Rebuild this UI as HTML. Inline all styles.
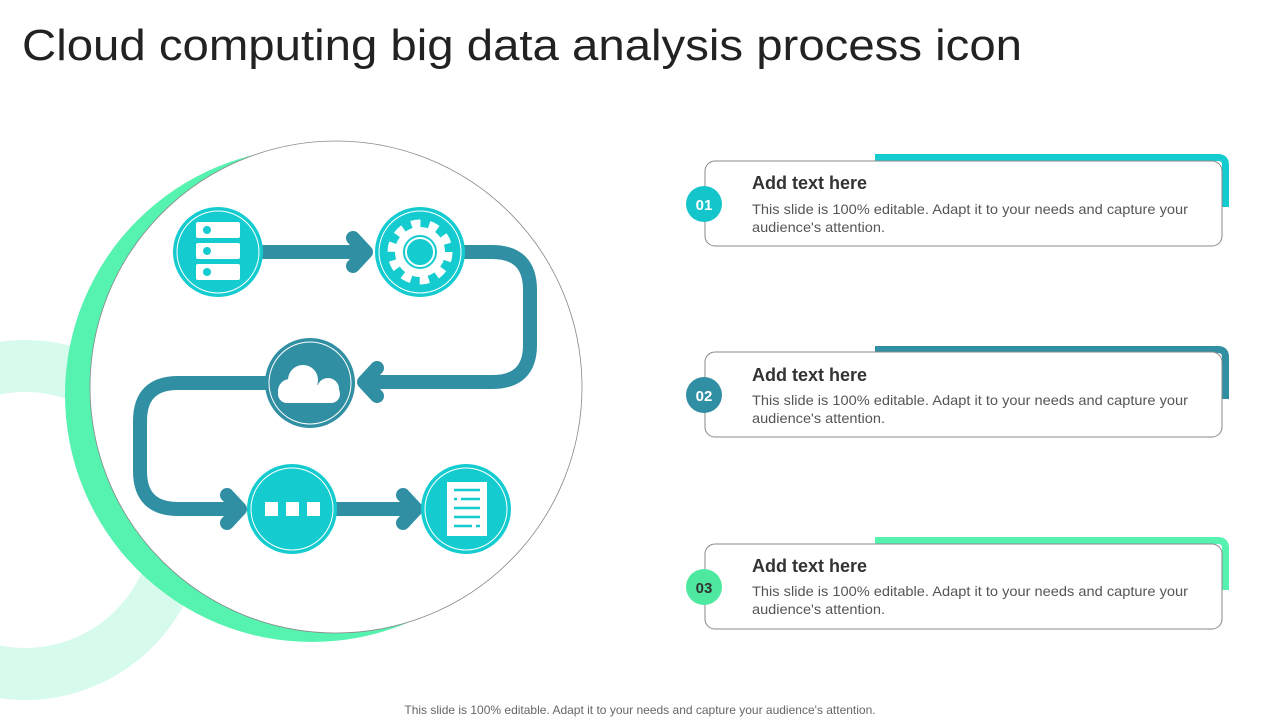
<!DOCTYPE html>
<html><head><meta charset="utf-8"><style>
html,body{margin:0;padding:0;background:#fff;}
svg{display:block;}
text{font-family:"Liberation Sans",sans-serif;}
</style></head><body>
<svg width="1280" height="720" viewBox="0 0 1280 720" xmlns="http://www.w3.org/2000/svg">
<text x="22" y="60" font-size="44" fill="#222" textLength="1000" lengthAdjust="spacingAndGlyphs">Cloud computing big data analysis process icon</text>

<circle cx="25" cy="520" r="154" fill="none" stroke="#D6FAEC" stroke-width="52"/>
<circle cx="312" cy="395" r="247" fill="#55F2B0"/>
<circle cx="336" cy="387" r="246" fill="#fff" stroke="#888" stroke-width="0.8"/>

<g fill="none" stroke="#318FA3" stroke-width="14" stroke-linecap="round" stroke-linejoin="round">
<path d="M262 252 H362"/>
<path d="M353 238 L366 252 L353 266"/>
<path d="M464 252 H492 Q530 252 530 290 V345 Q530 382 492 382 H368"/>
<path d="M377 368 L364 382 L377 396"/>
<path d="M266 383 H178 Q140 383 140 421 V471 Q140 509 178 509 H236"/>
<path d="M227 495 L240 509 L227 523"/>
<path d="M337 509 H412"/>
<path d="M403 495 L416 509 L403 523"/>
</g>

<g>
<circle cx="218" cy="252" r="45" fill="#14CCD0"/><circle cx="218" cy="252" r="41" fill="none" stroke="#fff" stroke-width="1"/>
<rect x="196" y="222" width="44" height="16" rx="2" fill="#fff"/><rect x="196" y="243" width="44" height="16" rx="2" fill="#fff"/><rect x="196" y="264" width="44" height="16" rx="2" fill="#fff"/>
<circle cx="207" cy="230" r="4" fill="#14CCD0"/><circle cx="207" cy="251" r="4" fill="#14CCD0"/><circle cx="207" cy="272" r="4" fill="#14CCD0"/>

<circle cx="420" cy="252" r="45" fill="#14CCD0"/><circle cx="420" cy="252" r="41" fill="none" stroke="#fff" stroke-width="1"/>
<circle cx="420" cy="252" r="28" fill="none" stroke="#fff" stroke-width="9" stroke-dasharray="9 8.6"/>
<circle cx="420" cy="252" r="21" fill="none" stroke="#fff" stroke-width="8"/>
<circle cx="420" cy="252" r="14" fill="none" stroke="#fff" stroke-width="2"/>

<circle cx="310" cy="383" r="45" fill="#318FA3"/><circle cx="310" cy="383" r="41" fill="none" stroke="#fff" stroke-width="1"/>
<g fill="#fff"><circle cx="303" cy="380" r="15"/><circle cx="290" cy="391" r="12"/><circle cx="328" cy="389" r="11"/><rect x="278" y="385" width="62" height="18" rx="9"/></g>

<circle cx="292" cy="509" r="45" fill="#14CCD0"/><circle cx="292" cy="509" r="41" fill="none" stroke="#fff" stroke-width="1"/>
<rect x="265" y="502" width="13" height="14" fill="#fff"/><rect x="286" y="502" width="13" height="14" fill="#fff"/><rect x="307" y="502" width="13" height="14" fill="#fff"/>

<circle cx="466" cy="509" r="45" fill="#14CCD0"/><circle cx="466" cy="509" r="41" fill="none" stroke="#fff" stroke-width="1"/>
<rect x="447" y="482" width="40" height="54" fill="#fff"/>
<g stroke="#14CCD0" stroke-width="2.5"><line x1="454" y1="490" x2="480" y2="490"/><line x1="454" y1="499" x2="457" y2="499"/><line x1="461" y1="499" x2="480" y2="499"/><line x1="454" y1="508" x2="480" y2="508"/><line x1="454" y1="517" x2="480" y2="517"/><line x1="454" y1="526" x2="472" y2="526"/><line x1="476" y1="526" x2="480" y2="526"/></g>
</g>

<g>
<path d="M875 157.5 H1218 Q1225.5 157.5 1225.5 165 V207" fill="none" stroke="#14CCD0" stroke-width="7"/>
<rect x="705" y="161" width="517" height="85" rx="10" fill="#fff" stroke="#888" stroke-width="1"/>
<circle cx="704" cy="204" r="18" fill="#14C6CB"/>
<text x="704" y="210" font-size="15" font-weight="bold" fill="#fff" text-anchor="middle">01</text>
<text x="752" y="189" font-size="18" font-weight="bold" fill="#333">Add text here</text>
<text x="752" y="214" font-size="14" fill="#555" textLength="436" lengthAdjust="spacingAndGlyphs">This slide is 100% editable. Adapt it to your needs and capture your</text>
<text x="752" y="232" font-size="14" fill="#555" textLength="133" lengthAdjust="spacingAndGlyphs">audience's attention.</text>

<path d="M875 349.5 H1218 Q1225.5 349.5 1225.5 357 V399" fill="none" stroke="#318FA3" stroke-width="7"/>
<rect x="705" y="352" width="517" height="85" rx="10" fill="#fff" stroke="#888" stroke-width="1"/>
<circle cx="704" cy="395" r="18" fill="#318FA3"/>
<text x="704" y="401" font-size="15" font-weight="bold" fill="#fff" text-anchor="middle">02</text>
<text x="752" y="381" font-size="18" font-weight="bold" fill="#333">Add text here</text>
<text x="752" y="405" font-size="14" fill="#555" textLength="436" lengthAdjust="spacingAndGlyphs">This slide is 100% editable. Adapt it to your needs and capture your</text>
<text x="752" y="423" font-size="14" fill="#555" textLength="133" lengthAdjust="spacingAndGlyphs">audience's attention.</text>

<path d="M875 540.5 H1218 Q1225.5 540.5 1225.5 548 V590" fill="none" stroke="#55F2B0" stroke-width="7"/>
<rect x="705" y="544" width="517" height="85" rx="10" fill="#fff" stroke="#888" stroke-width="1"/>
<circle cx="704" cy="587" r="18" fill="#4EE8A0"/>
<text x="704" y="593" font-size="15" font-weight="bold" fill="#333" text-anchor="middle">03</text>
<text x="752" y="572" font-size="18" font-weight="bold" fill="#333">Add text here</text>
<text x="752" y="596" font-size="14" fill="#555" textLength="436" lengthAdjust="spacingAndGlyphs">This slide is 100% editable. Adapt it to your needs and capture your</text>
<text x="752" y="614" font-size="14" fill="#555" textLength="133" lengthAdjust="spacingAndGlyphs">audience's attention.</text>
</g>

<text x="640" y="714" font-size="12" fill="#666" text-anchor="middle">This slide is 100% editable. Adapt it to your needs and capture your audience's attention.</text>
</svg>
</body></html>
